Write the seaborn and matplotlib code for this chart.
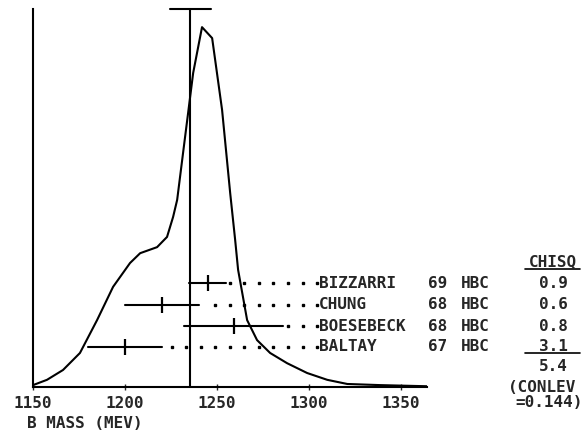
import numpy as np
import pandas as pd
import matplotlib
matplotlib.use("Agg")
import matplotlib.pyplot as plt
import seaborn as sns

# ideogram curve (mass in MeV, height as fraction of plot height)
curve_mass = [1150.0, 1157.6, 1166.3, 1175.5, 1184.8, 1193.5, 1202.7, 1208.2, 1217.4,
              1222.8, 1226.1, 1228.3, 1231.5, 1237.0, 1241.8, 1247.3, 1252.7, 1257.1,
              1259.8, 1261.4, 1266.3, 1271.7, 1278.8, 1288.0, 1298.9, 1309.8, 1320.7,
              1338.6, 1364.0]
curve_height = [0.005, 0.019, 0.045, 0.090, 0.177, 0.265, 0.328, 0.354, 0.370,
                0.397, 0.450, 0.495, 0.619, 0.831, 0.952, 0.923, 0.733, 0.513,
                0.389, 0.310, 0.177, 0.124, 0.090, 0.063, 0.037, 0.019, 0.008,
                0.005, 0.002]

# measurements
authors = ["BIZZARRI", "CHUNG", "BOESEBECK", "BALTAY"]
years = ["69", "68", "68", "67"]
techniques = ["HBC", "HBC", "HBC", "HBC"]
mass_values = [1245.0, 1220.0, 1259.0, 1200.0]
mass_errors = [10.0, 20.0, 27.0, 20.0]
chisq = ["0.9", "0.6", "0.8", "3.1"]
chisq_total = "5.4"
conf_level = "0.144"

# weighted average and its (scaled) error
avg_mass = 1235.5
avg_error = 11.0

# layout
row_y = [0.275, 0.217, 0.161, 0.106]
x_name, x_year, x_tech, x_chi = 1305.4, 1364.7, 1382.6, 1432.6
chi_lo, chi_hi = 1417.4, 1447.3
dot_end, dot_step = 1304.3, 7.9

sns.set_theme(style="white")
plt.rcParams['font.family'] = ['DejaVu Sans Mono', 'DejaVu Sans']
plt.rcParams['font.weight'] = 'bold'

fig = plt.figure(figsize=(5.88, 4.33), dpi=100)
ax = fig.add_axes([33 / 588, 46 / 433, 394 / 588, 378 / 433])

df = pd.DataFrame({"mass": curve_mass, "h": curve_height})
sns.lineplot(data=df, x="mass", y="h", ax=ax, color="black", lw=1.5, sort=False)

# average line with T bar
ax.plot([avg_mass, avg_mass], [0, 1], color="black", lw=1.5, clip_on=False)
ax.plot([avg_mass - avg_error, avg_mass + avg_error], [1, 1], color="black", lw=1.5, clip_on=False)

fs = 11.5
for i in range(len(authors)):
    y = row_y[i]
    lo = mass_values[i] - mass_errors[i]
    hi = mass_values[i] + mass_errors[i]
    ax.plot([lo, hi], [y, y], color="black", lw=1.5)
    ax.plot([mass_values[i]], [y], marker="|", ms=12, mew=1.6, color="black")
    dots = [dot_end - k * dot_step for k in range(40)]
    dots = [d for d in dots if d > hi + 1.5]
    ax.plot(dots, [y] * len(dots), linestyle="none", marker="s", ms=1.8, color="black", clip_on=False)
    ax.text(x_name, y, authors[i], fontsize=fs, va="center", ha="left", clip_on=False)
    ax.text(x_year, y, years[i], fontsize=fs, va="center", ha="left", clip_on=False)
    ax.text(x_tech, y, techniques[i], fontsize=fs, va="center", ha="left", clip_on=False)
    ax.text(x_chi, y, chisq[i], fontsize=fs, va="center", ha="center", clip_on=False)

ax.text(x_chi, 0.331, "CHISQ", fontsize=fs, va="center", ha="center", clip_on=False)
ax.plot([chi_lo, chi_hi], [0.312, 0.312], color="black", lw=1.2, clip_on=False)
ax.plot([chi_lo, chi_hi], [0.090, 0.090], color="black", lw=1.2, clip_on=False)
ax.text(x_chi, 0.053, chisq_total, fontsize=fs, va="center", ha="center", clip_on=False)
ax.text(1408.2, 0.0, "(CONLEV", fontsize=fs, va="center", ha="left", clip_on=False)
ax.text(1412.0, -0.042, "=" + conf_level + ")", fontsize=fs, va="center", ha="left", clip_on=False)

ax.set_xlim(1150, 1364)
ax.set_ylim(0, 1)
ax.set_xticks([1150, 1200, 1250, 1300, 1350])
ax.set_yticks([])
ax.tick_params(axis="x", direction="inout", length=5, width=1, pad=4, labelsize=fs, bottom=True)
ax.set_xlabel("")
ax.set_ylabel("")
for side in ["top", "right"]:
    ax.spines[side].set_visible(False)
for side in ["left", "bottom"]:
    ax.spines[side].set_color("black")
    ax.spines[side].set_linewidth(1.5)

fig.text(27 / 588, 9 / 433, "B MASS (MEV)", fontsize=fs, va="center", ha="left")

fig.savefig("out.png", dpi=100, facecolor="white")
